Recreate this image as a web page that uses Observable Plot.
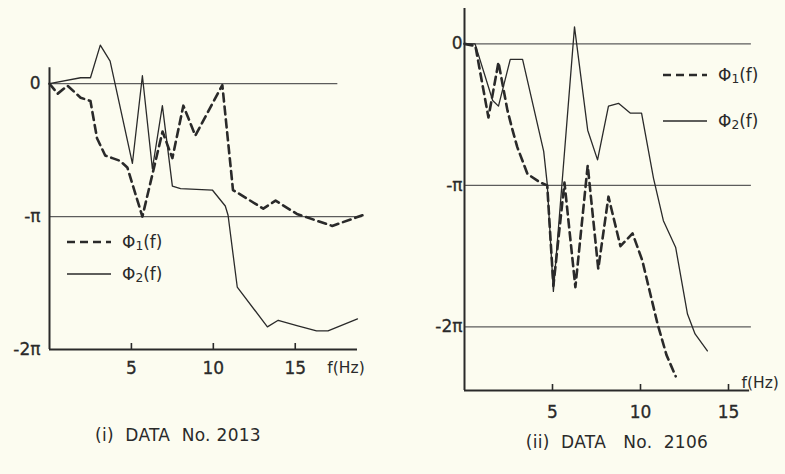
<!DOCTYPE html>
<html>
<head>
<meta charset="utf-8">
<script src="https://cdn.jsdelivr.net/npm/d3@7"></script>
<script src="https://cdn.jsdelivr.net/npm/@observablehq/plot@0.6"></script>
<style>
  html, body { margin: 0; padding: 0; background: #fcfcf0; }
  #wrap { position: relative; width: 785px; height: 474px; background: #fcfcf0; overflow: hidden;
          font-family: "DejaVu Sans", sans-serif; color: #2a2a2a; }
  #wrap svg.plot { position: absolute; left: 0; top: 0; }
  .cap { position: absolute; font-size: 17px; white-space: pre; transform: translate(-50%, -50%); letter-spacing: 0.3px; }
  .leg { position: absolute; display: flex; align-items: center; font-size: 17px; white-space: nowrap; transform: translateY(-50%); }
  .leg svg { margin-right: 11px; }
  .leg .sub { font-size: 0.72em; position: relative; top: 0.18em; }
</style>
</head>
<body>
<div id="wrap"></div>
<script>
// ---------- DATA (phase in units of π, frequency in Hz) ----------
// Panel (i) DATA No. 2013
const p1Phi1F = [0, 0.5, 1.1, 1.9, 2.5, 2.9, 3.4, 3.84, 4.3, 4.75, 5.67, 6.9, 7.5, 8.17, 8.9, 10.55, 11.2, 13.05, 13.8, 15.1, 17.26, 19.1];
const p1Phi1V = [0, -0.075, -0.015, -0.105, -0.13, -0.41, -0.54, -0.56, -0.58, -0.63, -1.0, -0.36, -0.56, -0.165, -0.39, -0.01, -0.80, -0.94, -0.88, -0.98, -1.07, -0.99];
const p1Phi2F = [0, 1.9, 2.5, 3.1, 3.7, 5.06, 5.67, 6.28, 6.89, 7.5, 8.0, 9.94, 10.73, 10.9, 11.46, 13.3, 13.96, 15.1, 16.3, 17.0, 18.8];
const p1Phi2V = [0, 0.045, 0.045, 0.29, 0.17, -0.60, 0.06, -0.64, -0.165, -0.77, -0.79, -0.80, -0.92, -0.99, -1.53, -1.83, -1.78, -1.82, -1.86, -1.86, -1.77];
// Panel (ii) DATA No. 2106
const p2Phi1F = [0, 0.62, 1.36, 1.93, 2.44, 2.73, 3.0, 3.58, 4.3, 4.7, 5.05, 5.68, 6.3, 7.0, 7.6, 8.18, 8.86, 9.55, 10.1, 10.97, 11.48, 12.0];
const p2Phi1V = [0, -0.015, -0.52, -0.13, -0.47, -0.61, -0.73, -0.92, -0.98, -1.0, -1.71, -0.98, -1.72, -0.86, -1.59, -1.08, -1.43, -1.34, -1.53, -1.98, -2.2, -2.35];
const p2Phi2F = [0, 0.6, 1.6, 1.93, 2.6, 3.3, 4.5, 4.7, 5.05, 6.25, 7.0, 7.56, 8.18, 8.75, 9.43, 10.06, 10.74, 11.3, 12.0, 12.67, 13.1, 13.8];
const p2Phi2V = [0, 0, -0.40, -0.44, -0.11, -0.11, -0.76, -0.99, -1.75, 0.12, -0.61, -0.82, -0.44, -0.42, -0.49, -0.49, -0.95, -1.25, -1.44, -1.91, -2.05, -2.17];

// Tick labels
const xTicks = [5, 10, 15];
const yTicksP1 = [0, -1, -2];
const yTicksP2 = [0, -1, -2];
const yLabels = ["0", "-π", "-2π"];
const xUnitLabel = "f(Hz)";
const seriesSymbol = "Φ";
const seriesIndex = ["1", "2"];
const captions = ["(i)  DATA  No. 2013", "(ii)  DATA   No.  2106"];

// ---------- helpers ----------
const rows = (F, V) => F.map((f, i) => ({ f, v: V[i] }));
const INK = "#2a2a2a";
const GRID = "#5c5c5c";
const DASH = "8,5";

function panel(opt) {
  const ch = opt.height - opt.marginTop - opt.marginBottom;
  const pxPerUnit = ch / (opt.yDomain[1] - opt.yDomain[0]);
  const tickLen = 6 / pxPerUnit;
  const yb = opt.yDomain[0];
  return Plot.plot({
    width: 785, height: 474,
    marginLeft: opt.marginLeft, marginRight: opt.marginRight,
    marginTop: opt.marginTop, marginBottom: opt.marginBottom,
    x: { domain: opt.xDomain, axis: null },
    y: { domain: opt.yDomain, axis: null },
    style: { background: "transparent", overflow: "visible", fontFamily: "'DejaVu Sans', sans-serif", color: INK },
    className: "plot",
    marks: [
      // reference lines at 0, -π, -2π
      Plot.ruleY(opt.grid, { y: d => d.v, x1: opt.xDomain[0], x2: d => d.end, stroke: GRID, strokeWidth: 1.3 }),
      // axes
      Plot.ruleX([opt.xDomain[0]], { y1: yb, y2: opt.yAxisTop, stroke: INK, strokeWidth: 2 }),
      Plot.ruleY([yb], { x1: opt.xDomain[0], x2: opt.xAxisEnd, stroke: INK, strokeWidth: 2 }),
      Plot.ruleX(xTicks, { x: d => d, y1: yb, y2: yb + tickLen, stroke: INK, strokeWidth: 1.6 }),
      Plot.text(xTicks, { x: d => d, y: yb, dy: opt.xLabelDy, text: d => String(d), fontSize: 17, fill: INK, stroke: INK, strokeWidth: 0.3 }),
      Plot.text([xUnitLabel], { x: opt.unitX, y: yb, dy: opt.unitDy, text: d => d, fontSize: 15.5, fill: INK }),
      Plot.text(opt.yTicks, { x: opt.xDomain[0], y: d => d, dx: opt.yLabelDx, text: (d, i) => yLabels[i], textAnchor: "end", fontSize: 17, fill: INK, stroke: INK, strokeWidth: 0.3 }),
      // series
      Plot.line(opt.phi2, { x: "f", y: "v", stroke: INK, strokeWidth: 1.3 }),
      Plot.line(opt.phi1, { x: "f", y: "v", stroke: INK, strokeWidth: 2.6, strokeDasharray: DASH })
    ]
  });
}

const wrap = document.getElementById("wrap");

wrap.appendChild(panel({
  height: 474, marginLeft: 49, marginRight: 428, marginTop: 50, marginBottom: 125,
  xDomain: [0, 18.8], yDomain: [-2, 0.25],
  grid: [{ v: 0, end: 17.6 }, { v: -1, end: 19.1 }],
  yAxisTop: 0.12, xAxisEnd: 18.8,
  xLabelDy: 19, unitX: 18.1, unitDy: 19, yLabelDx: -9,
  yTicks: yTicksP1,
  phi1: rows(p1Phi1F, p1Phi1V), phi2: rows(p1Phi2F, p1Phi2V)
}));

wrap.appendChild(panel({
  height: 474, marginLeft: 464, marginRight: 57, marginTop: 8, marginBottom: 84,
  xDomain: [0, 15], yDomain: [-2.45, 0.25],
  grid: [{ v: 0, end: 16.3 }, { v: -1, end: 16.3 }, { v: -2, end: 16.3 }],
  yAxisTop: 0.25, xAxisEnd: 16.2,
  xLabelDy: 22, unitX: 16.8, unitDy: -7, yLabelDx: -2,
  yTicks: yTicksP2,
  phi1: rows(p2Phi1F, p2Phi1V), phi2: rows(p2Phi2F, p2Phi2V)
}));

// legends
function legend(x, y, idx, dashed) {
  const d = document.createElement("div");
  d.className = "leg";
  d.style.left = x + "px"; d.style.top = y + "px";
  d.innerHTML = `<svg width="44" height="6"><line x1="0" y1="3" x2="44" y2="3" stroke="${INK}" stroke-width="${dashed ? 2.6 : 1.3}" ${dashed ? `stroke-dasharray="${DASH}"` : ""}/></svg><span>${seriesSymbol}<span class="sub">${seriesIndex[idx]}</span>(f)</span>`;
  wrap.appendChild(d);
}
legend(67, 242, 0, true);
legend(67, 274, 1, false);
legend(663, 75, 0, true);
legend(663, 121, 1, false);

// captions
function caption(x, y, t) {
  const d = document.createElement("div");
  d.className = "cap";
  d.style.left = x + "px"; d.style.top = y + "px";
  d.textContent = t;
  wrap.appendChild(d);
}
caption(178, 435, captions[0]);
caption(617, 442, captions[1]);
</script>
</body>
</html>
